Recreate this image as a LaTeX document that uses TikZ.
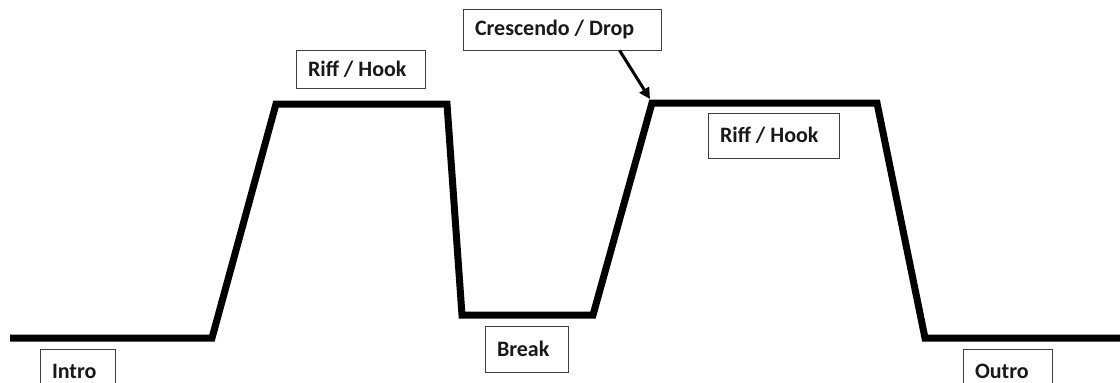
\documentclass[tikz,border=0pt]{standalone}
\usepackage{fontspec}
\setmainfont{Carlito}
\usetikzlibrary{arrows.meta}
\newcommand{\lbltext}[2]{\makebox[#1][l]{#2}}
\begin{document}
\begin{tikzpicture}[x=1pt,y=-1pt,
  label box/.style={draw=black!75,line width=0.9pt,fill=white,inner xsep=12pt,inner ysep=0pt,
    font=\fontsize{22}{26}\selectfont\bfseries,text=black!90},
  curve/.style={line width=7pt,line join=miter,black},
  pointer/.style={line width=3pt,-{Triangle[length=11pt,width=11pt]}}]
\useasboundingbox (0,0) rectangle (1120,383);
\clip (0,0) rectangle (1120,383);
\fill[white] (0,0) rectangle (1120,383);
% song-energy curve
\coordinate (p1) at (10,338);
\coordinate (p2) at (212,338);
\coordinate (p3) at (276,104);
\coordinate (p4) at (447,104);
\coordinate (p5) at (462,315);
\coordinate (p6) at (593,315);
\coordinate (p7) at (652,103);
\coordinate (p8) at (877,103);
\coordinate (p9) at (925,338);
\coordinate (p10) at (1125,338);
\draw[curve] (p1) -- (p2) -- (p3) -- (p4) -- (p5) -- (p6) -- (p7) -- (p8) -- (p9) -- (p10);
% labels
\node[label box,minimum height=44pt] (intro) at (77.5,371) {\lbltext{51pt}{Intro}};
\node[label box,minimum height=38pt] (riff1) at (360.5,69) {\lbltext{105pt}{Riff / Hook}};
\node[label box,minimum height=46pt] (break) at (526.5,349) {\lbltext{59pt}{Break}};
\node[label box,minimum height=41pt] (cres) at (562,29.5) {\lbltext{174pt}{Crescendo / Drop}};
\node[label box,minimum height=45pt] (riff2) at (773.5,135.5) {\lbltext{107pt}{Riff / Hook}};
\node[label box,minimum height=44pt] (outro) at (1007.5,371) {\lbltext{65pt}{Outro}};
% pointer
\coordinate (tip) at (650,99);
\draw[pointer] (cres.-20.4) -- (tip);
\end{tikzpicture}
\end{document}
